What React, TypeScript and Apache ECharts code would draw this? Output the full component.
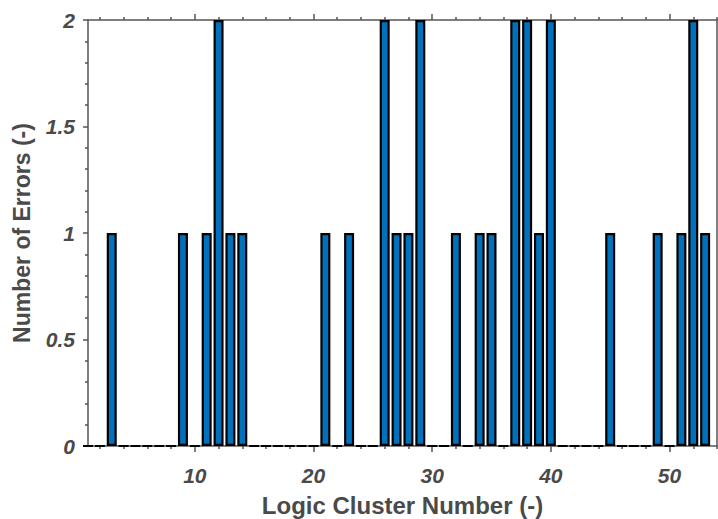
import React, { useEffect, useRef } from "react";
import * as echarts from "echarts";

const clusters: number[] = Array.from({ length: 53 }, (_, i) => i + 1);
const errorCounts: number[] = [
  0, 0, 1, 0, 0, 0, 0, 0, 1, 0, // 1-10
  1, 2, 1, 1, 0, 0, 0, 0, 0, 0, // 11-20
  1, 0, 1, 0, 0, 2, 1, 1, 2, 0, // 21-30
  0, 1, 0, 1, 1, 0, 2, 2, 1, 2, // 31-40
  0, 0, 0, 0, 1, 0, 0, 0, 1, 0, // 41-50
  1, 2, 1, // 51-53
];
const xMajorTicks: number[] = [10, 20, 30, 40, 50];
const xMinorTicks: number[] = [2, 4, 6, 8, 12, 14, 16, 18, 22, 24, 26, 28, 32, 34, 36, 38, 42, 44, 46, 48, 52, 54];

const FONT = "'Liberation Sans', Arial, Helvetica, sans-serif";
const AXIS_COLOR = "#555555";
const TEXT_COLOR = "#4a4a4a";

export default function App() {
  const ref = useRef<HTMLDivElement>(null);
  useEffect(() => {
    if (!ref.current) return;
    const chart = echarts.init(ref.current, undefined, { renderer: "svg" });
    const baseX = {
      type: "value" as const,
      min: 1,
      max: 54,
      splitLine: { show: false },
    };
    const option: any = {
      animation: false,
      backgroundColor: "#ffffff",
      grid: { left: 88, right: 1, top: 20, bottom: 73, containLabel: false, outerBoundsMode: "none" },
      xAxis: [
        {
          ...baseX,
          position: "bottom",
          name: "Logic Cluster Number (-)",
          nameLocation: "middle",
          nameGap: 47,
          nameTextStyle: { fontFamily: FONT, fontSize: 24, fontWeight: "bold", color: TEXT_COLOR },
          axisLine: { show: true, lineStyle: { color: AXIS_COLOR, width: 1.5 } },
          axisTick: { show: true, customValues: xMajorTicks, length: 6, inside: false, lineStyle: { color: AXIS_COLOR, width: 1.5 } },
          axisLabel: {
            show: true,
            customValues: xMajorTicks,
            margin: 19,
            fontFamily: FONT,
            fontSize: 21,
            fontWeight: "bold",
            fontStyle: "italic",
            color: TEXT_COLOR,
          },
        },
        {
          ...baseX,
          position: "bottom",
          axisLine: { show: false },
          axisTick: { show: true, customValues: xMinorTicks, length: 3, lineStyle: { color: AXIS_COLOR, width: 1.5 } },
          axisLabel: { show: false },
        },
        {
          ...baseX,
          position: "top",
          axisLine: { show: true, lineStyle: { color: AXIS_COLOR, width: 1.5 } },
          axisTick: { show: true, customValues: xMajorTicks, length: 6, lineStyle: { color: AXIS_COLOR, width: 1.5 } },
          axisLabel: { show: false },
        },
        {
          ...baseX,
          position: "top",
          axisLine: { show: false },
          axisTick: { show: true, customValues: xMinorTicks, length: 3, lineStyle: { color: AXIS_COLOR, width: 1.5 } },
          axisLabel: { show: false },
        },
      ],
      yAxis: [
        {
          type: "value",
          position: "left",
          min: 0,
          max: 2,
          interval: 0.5,
          name: "Number of Errors (-)",
          nameLocation: "middle",
          nameGap: 55,
          nameTextStyle: { fontFamily: FONT, fontSize: 23, fontWeight: "bold", color: TEXT_COLOR },
          splitLine: { show: false },
          axisLine: { show: true, lineStyle: { color: AXIS_COLOR, width: 1.5 } },
          axisTick: { show: true, length: 5, lineStyle: { color: AXIS_COLOR, width: 1.5 } },
          minorTick: { show: true, splitNumber: 5, length: 3, lineStyle: { color: AXIS_COLOR, width: 1.5 } },
          minorSplitLine: { show: false },
          axisLabel: {
            margin: 13,
            fontFamily: FONT,
            fontSize: 21,
            fontWeight: "bold",
            fontStyle: "italic",
            color: TEXT_COLOR,
          },
        },
        {
          type: "value",
          position: "right",
          min: 0,
          max: 2,
          interval: 0.5,
          splitLine: { show: false },
          axisLine: { show: true, lineStyle: { color: AXIS_COLOR, width: 1.5 } },
          axisTick: { show: false },
          axisLabel: { show: false },
        },
      ],
      series: [
        {
          type: "bar",
          xAxisIndex: 0,
          yAxisIndex: 0,
          data: clusters.map((c, i) => [c, errorCounts[i]]),
          barWidth: 10,
          itemStyle: { color: "#0072BD", borderColor: "#000000", borderWidth: 2.2 },
          clip: true,
        },
      ],
    };
    chart.setOption(option);
    return () => chart.dispose();
  }, []);
  return <div ref={ref} style={{ width: 718, height: 519, position: "absolute", left: 0, top: 0 }} />;
}
